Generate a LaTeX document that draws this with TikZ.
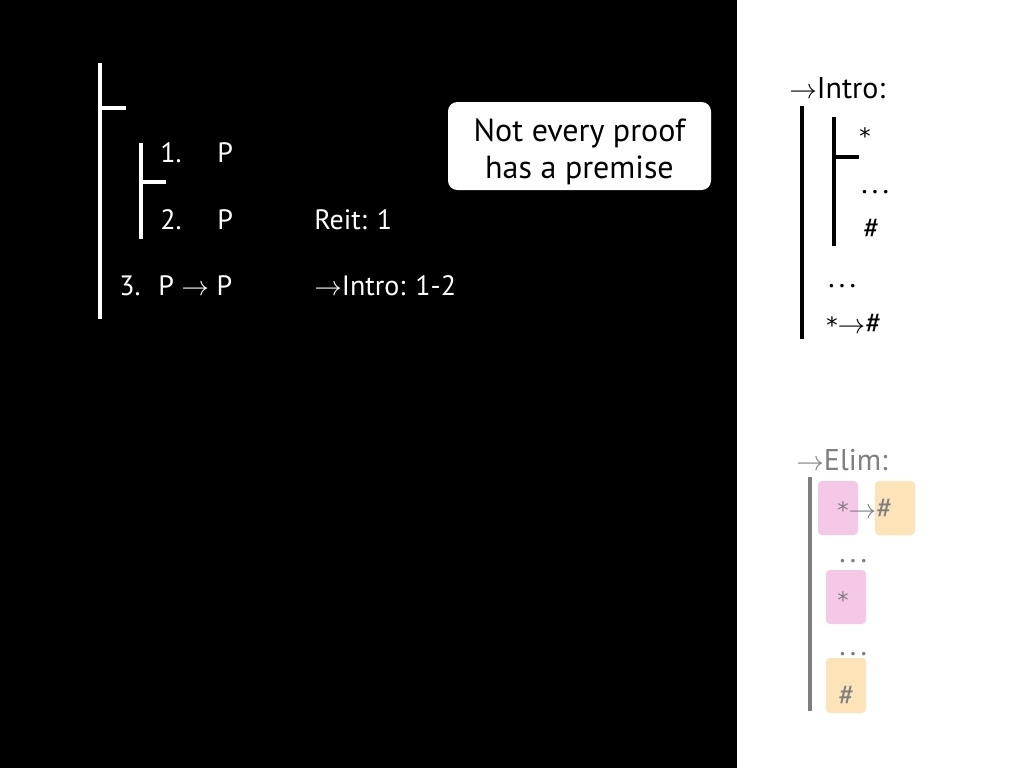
\documentclass[tikz,border=0pt]{standalone}
\usepackage{fontspec}
\setmainfont{PT Sans}
\newfontfamily\astfont{DejaVu Sans}
\newcommand\myast{{\astfont\fontsize{17}{20}\selectfont *}}
\newcommand\mydots{.\hspace{3.2pt}.\hspace{3.2pt}.}
\begin{document}
\begin{tikzpicture}[x=0.75pt,y=-0.75pt,
  lt/.style={anchor=base west,inner sep=0pt,font=\fontsize{21}{25}\selectfont,text=white},
  rt/.style={anchor=base west,inner sep=0pt,font=\fontsize{22.5}{26}\selectfont,text=black},
  gt/.style={anchor=base west,inner sep=0pt,font=\fontsize{22.5}{26}\selectfont,text=elimgray},
  wbar/.style={draw=white,line width=3pt},
  bbar/.style={draw=black,line width=3pt},
  gbar/.style={draw=elimgray,line width=3.6pt},
  pinkbox/.style={fill=elimpink,rounded corners=3pt},
  orangebox/.style={fill=elimorange,rounded corners=3pt}]
\definecolor{elimgray}{HTML}{7F7F7F}
\definecolor{elimpink}{HTML}{F6C8E8}
\definecolor{elimorange}{HTML}{FDE4B8}
\useasboundingbox (0,0) rectangle (1024,768);
\fill[black] (0,0) rectangle (1024,768);
\fill[white] (737,0) rectangle (1024,768);
% left proof
\coordinate (m1) at (100,63); \coordinate (m2) at (100,319);
\coordinate (mt1) at (100,108); \coordinate (mt2) at (126,108);
\coordinate (s1) at (141,143); \coordinate (s2) at (141,239);
\coordinate (st1) at (141,182); \coordinate (st2) at (166,182);
\draw[wbar] (m1) -- (m2);
\draw[wbar] (mt1) -- (mt2);
\draw[wbar] (s1) -- (s2);
\draw[wbar] (st1) -- (st2);
\node[lt] (n1) at (160,162) {1.};
\node[lt] (p1) at (217,162) {P};
\node[lt] (n2) at (160,229) {2.};
\node[lt] (p2) at (217,229) {P};
\node[lt] (r2) at (314,229) {Reit: 1};
\node[lt] (n3) at (119,295) {3.};
\node[lt] (p3) at (158,295) {P $\rightarrow$ P};
\node[lt] (r3) at (314,295) {$\rightarrow$Intro: 1-2};
% callout
\fill[white,rounded corners=7pt] (448,102) rectangle (711,190);
\node[inner sep=0pt,align=center,font=\fontsize{24}{28}\selectfont,text=black] (call) at (579.5,152)
  {Not every proof\\has a premise};
% intro rule
\node[rt] (ih) at (789,98) {$\rightarrow$Intro:};
\coordinate (ib1) at (802,106); \coordinate (ib2) at (802,339);
\coordinate (ic1) at (834,117); \coordinate (ic2) at (834,246);
\coordinate (it1) at (834,157); \coordinate (it2) at (859,157);
\draw[bbar] (ib1) -- (ib2);
\draw[bbar] (ic1) -- (ic2);
\draw[bbar] (it1) -- (it2);
\node[rt] (ia) at (859,144) {\myast};
\node[rt] (id1) at (861,193) {\mydots};
\node[rt] (ih1) at (863,238) {\#};
\node[rt] (id2) at (828,287) {\mydots};
\node[rt] (ir) at (826,333) {\myast$\rightarrow$\#};
% elim rule
\node[gt] (eh) at (796,470) {$\rightarrow$Elim:};
\coordinate (eb1) at (810,477); \coordinate (eb2) at (810,711);
\draw[gbar] (eb1) -- (eb2);
\fill[pinkbox] (818,481) rectangle (858,535);
\fill[orangebox] (875,481) rectangle (915,535);
\node[gt] (ea) at (837,518) {\myast$\rightarrow$\#};
\node[gt] (ed1) at (839,562) {\mydots};
\fill[pinkbox] (826,570) rectangle (866,624);
\node[gt] (es) at (837,608) {\myast};
\node[gt] (ed2) at (839,655) {\mydots};
\fill[orangebox] (826,658) rectangle (866,713);
\node[gt] (eh2) at (838,705) {\#};
\end{tikzpicture}
\end{document}
